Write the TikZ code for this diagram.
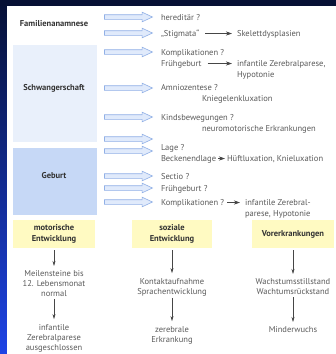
\documentclass[tikz,border=0pt]{standalone}
\usepackage{fontspec}
\setmainfont{PT Sans}
\usetikzlibrary{arrows.meta,shapes.arrows}
\definecolor{navy}{RGB}{6,16,52}
\definecolor{brightblue}{RGB}{30,68,230}
\definecolor{textgray}{RGB}{90,90,90}
\definecolor{headgray}{RGB}{50,50,50}
\definecolor{flowgray}{RGB}{70,70,70}
\definecolor{schwfill}{RGB}{233,240,251}
\definecolor{gebfill}{RGB}{198,216,246}
\definecolor{yfill}{RGB}{255,250,194}
\definecolor{arrowline}{RGB}{145,176,230}
\definecolor{arrowfill}{RGB}{224,234,251}
\begin{document}
\begin{tikzpicture}[x=1pt,y=-1pt,
  txt/.style={inner sep=0pt,outer sep=0pt,anchor=base west,text=textgray,font=\fontsize{8.5}{10.5}\selectfont},
  head/.style={inner sep=0pt,outer sep=0pt,align=center,text=headgray,font=\bfseries\fontsize{8.5}{10.5}\selectfont},
  ybox/.style={head,fill=yfill},
  stack/.style={inner sep=0pt,outer sep=0pt,align=center,text=textgray,font=\fontsize{8.5}{10}\selectfont},
  hollow/.style={single arrow,draw=arrowline,fill=arrowfill,line width=0.6pt,inner sep=2pt,
    minimum height=48pt,single arrow head extend=2.5pt,single arrow tip angle=50},
  flow/.style={draw=flowgray,line width=0.5pt,-{Stealth[length=6pt,width=4pt]},shorten <=6pt,shorten >=5pt},
  down/.style={draw=flowgray,line width=0.5pt,-{Stealth[length=5pt,width=3pt]},shorten <=2pt,shorten >=5pt}]
\path[use as bounding box] (0,0) rectangle (336,354);
% backdrop and page
\shade[top color=navy,bottom color=brightblue] (0,0) rectangle (336,354);
\fill[navy] (0,0) rectangle (336,6);
\fill[white] (7,6) rectangle (336,354);
\fill[schwfill] (13,45) rectangle (97,142);
\fill[gebfill] (13,148) rectangle (97,215);
% stage labels
\node[head] (fam) at (54,24) {Familienanamnese};
\node[head] (schw) at (54,88) {Schwangerschaft};
\node[head] (geb) at (54,176) {Geburt};
% hollow arrows
\foreach \y [count=\i] in {17,33,52,88,117,139,151,176,188,202}
  \node[hollow] (h\i) at (126,\y) {};
% questions and findings
\node[txt] (hered) at (161,20) {hereditär ?};
\node[txt] (stig) at (161,36) {„Stigmata“};
\node[txt] (skel) at (237,36) {Skelettdysplasien};
\node[txt] (kompa) at (161,55) {Komplikationen ?};
\node[txt] (frueha) at (161,66) {Frühgeburt};
\node[txt] (infa) at (237,66) {infantile Zerebralparese,};
\node[txt] (hypa) at (237,77) {Hypotonie};
\node[txt] (amni) at (161,90) {Amniozentese ?};
\node[txt] (knie) at (202,101) {Kniegelenkluxation};
\node[txt] (kinds) at (161,120) {Kindsbewegungen ?};
\node[txt] (neuro) at (202,131) {neuromotorische Erkrankungen};
\node[txt] (lage) at (161,150) {Lage ?};
\node[txt] (beck) at (161,161) {Beckenendlage};
\node[txt] (hueft) at (227,161) {Hüftluxation, Knieluxation};
\node[txt] (sect) at (161,179) {Sectio ?};
\node[txt] (fruehb) at (161,191) {Frühgeburt ?};
\node[txt] (kompb) at (161,205) {Komplikationen ?};
\node[txt] (infb) at (245,205) {infantile Zerebral-};
\node[txt] (hypb) at (245,216) {parese, Hypotonie};
\draw[flow] (stig.mid east) -- (skel.mid west);
\draw[flow] (frueha.mid east) -- (infa.mid west);
\draw[flow,shorten <=2pt,shorten >=2pt] (beck.mid east) -- (hueft.mid west);
\draw[flow,shorten <=3pt] (kompb.mid east) -- (infb.mid west);
% development columns
\node[ybox,minimum width=82pt,minimum height=28pt] (motor) at (54,234) {motorische\\Entwicklung};
\node[ybox,minimum width=80pt,minimum height=28pt] (sozial) at (172,234) {soziale\\Entwicklung};
\node[ybox,minimum width=82pt,minimum height=28pt] (vorerk) at (293,234) {Vorerkrankungen};
\node[stack] (meil) at (54,284) {Meilensteine bis\\12. Lebensmonat\\normal};
\node[stack] (infz) at (54,338) {infantile\\Zerebralparese\\ausgeschlossen};
\node[stack] (kont) at (172,287) {Kontaktaufnahme\\Sprachentwicklung};
\node[stack] (zere) at (172,335) {zerebrale\\Erkrankung};
\node[stack] (wach) at (293,287) {Wachstumsstillstand\\Wachtumsrückstand};
\node[stack] (mind) at (293,330) {Minderwuchs};
\draw[down] (motor) -- (meil);
\draw[down] (meil) -- (infz);
\draw[down] (sozial) -- (kont);
\draw[down] (kont) -- (zere);
\draw[down] (vorerk) -- (wach);
\draw[down] (wach) -- (mind);
\end{tikzpicture}
\end{document}
